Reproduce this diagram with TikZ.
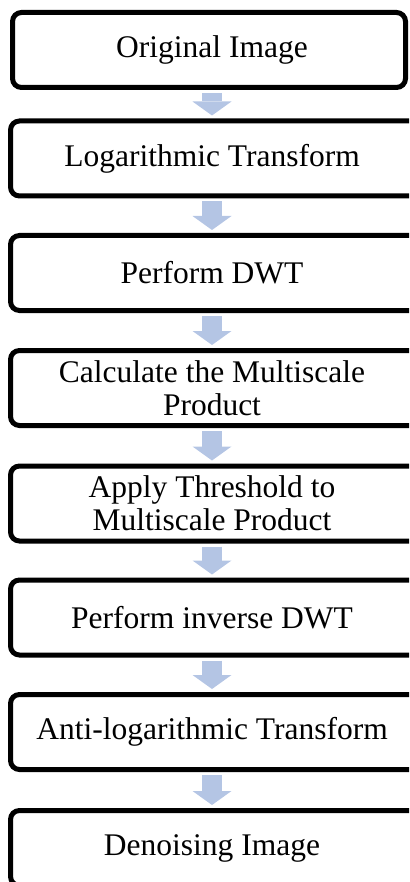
\documentclass[tikz,border=0pt]{standalone}
\usepackage{fontspec}
\setmainfont{Liberation Serif}
\usetikzlibrary{arrows.meta}
\definecolor{arrowblue}{RGB}{180,197,228}
\begin{document}
\begin{tikzpicture}[x=1pt,y=-1pt,
  stepbox/.style={draw=black, line width=5pt, rounded corners=9pt,
    minimum width=417pt, minimum height=75pt, inner sep=0pt},
  steptext/.style={inner sep=0pt, align=center,
    font=\fontsize{31.5}{33}\selectfont},
  flow/.style={draw=arrowblue, line width=20pt,
    -{Triangle[width=39pt,length=14pt,line width=0pt]},
    shorten <=3pt, shorten >=3pt}]
\useasboundingbox (0,0) rectangle (409,882);
\clip (0,0) rectangle (409,882);
\node[stepbox, minimum width=393pt] (b1) at (209,50) {};
\node[stepbox] (b2) at (219,158.5) {};
\node[stepbox] (b3) at (219,273) {};
\node[stepbox] (b4) at (219,388) {};
\node[stepbox] (b5) at (219,503.5) {};
\node[stepbox] (b6) at (219,617.5) {};
\node[stepbox] (b7) at (219,732) {};
\node[stepbox] (b8) at (219,848) {};
\node[steptext] (t1) at (212,50) {Original Image};
\node[steptext] (t2) at (212,158.5) {Logarithmic Transform};
\node[steptext] (t3) at (212,273) {Perform DWT};
\node[steptext] (t4) at (212,388) {Calculate the Multiscale\\Product};
\node[steptext] (t5) at (212,503.5) {Apply Threshold to\\Multiscale Product};
\node[steptext] (t6) at (212,617.5) {Perform inverse DWT};
\node[steptext] (t7) at (212,732) {Anti-logarithmic Transform};
\node[steptext] (t8) at (212,848) {Denoising Image};
\draw[flow] (b1.south -| t2.north) -- (b2.north -| t2.north);
\draw[flow] (b2.south -| t2.north) -- (b3.north -| t2.north);
\draw[flow] (b3.south -| t2.north) -- (b4.north -| t2.north);
\draw[flow] (b4.south -| t2.north) -- (b5.north -| t2.north);
\draw[flow] (b5.south -| t2.north) -- (b6.north -| t2.north);
\draw[flow] (b6.south -| t2.north) -- (b7.north -| t2.north);
\draw[flow] (b7.south -| t2.north) -- (b8.north -| t2.north);
\end{tikzpicture}
\end{document}
